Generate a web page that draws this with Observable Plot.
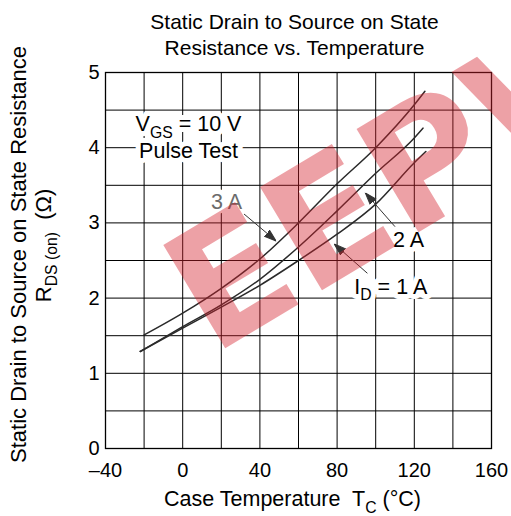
<!DOCTYPE html>
<html><head><meta charset="utf-8">
<script src="https://cdn.jsdelivr.net/npm/d3@7"></script>
<script src="https://cdn.jsdelivr.net/npm/@observablehq/plot@0.6"></script>
<style>
body{margin:0;background:#fff}
svg text{white-space:pre}
</style>
</head><body><div id="chart"></div>
<script>
// ---- data ----
const temp3A = [-20, 0, 20, 40, 60, 80, 100, 120, 125.5];
const r3A    = [1.51, 1.80, 2.13, 2.52, 3.00, 3.52, 4.00, 4.57, 4.75];
const temp2A = [-22, 0, 20, 40, 60, 80, 100, 120, 124.5];
const r2A    = [1.29, 1.62, 1.91, 2.25, 2.68, 3.16, 3.66, 4.13, 4.26];
const temp1A = [-22, 0, 20, 40, 60, 80, 100, 120, 126];
const r1A    = [1.29, 1.60, 1.88, 2.17, 2.50, 2.85, 3.25, 3.80, 3.95];

const xTicks = [-40, 0, 40, 80, 120, 160];
const xGrid  = [-40, -20, 0, 20, 40, 60, 80, 100, 120, 140, 160];
const yTicks = [0, 1, 2, 3, 4, 5];
const yGrid  = [0, 0.5, 1, 1.5, 2, 2.5, 3, 3.5, 4, 4.5, 5];

const labelText  = ["VGS = 10 V", "Pulse Test", "3 A", "2 A", "ID = 1 A"];
const labelX     = [3, 3, 22.7, 117, 107.8];
const labelY     = [4.31, 3.95, 3.28, 2.77, 2.15];
const labelColor = ["#000", "#000", "#6b6b6b", "#000", "#000"];

const arrowX1 = [31.7, 110, 95.7];
const arrowY1 = [3.12, 2.95, 2.33];
const arrowX2 = [48.4, 94.6, 78.5];
const arrowY2 = [2.76, 3.40, 2.72];

const titleText = "Static Drain to Source on State\nResistance vs. Temperature";
const xLabel = "Case Temperature  TC (°C)";
const yLabel1 = "Static Drain to Source on State Resistance";
const yLabel2 = "RDS (on)  (Ω)";

const wmText = ["EEPW"];
const wmX = [118.6];
const wmY = [3.64];

// ---- build tables ----
const curves = [
  ...temp3A.map((t, i) => ({t, r: r3A[i], s: "3A"})),
  ...temp2A.map((t, i) => ({t, r: r2A[i], s: "2A"})),
  ...temp1A.map((t, i) => ({t, r: r1A[i], s: "1A"}))
];
const labels = labelText.map((text, i) => ({text, x: labelX[i], y: labelY[i], c: labelColor[i]}));
const arrows = arrowX1.map((x1, i) => ({x1, y1: arrowY1[i], x2: arrowX2[i], y2: arrowY2[i]}));

const filledArrow = (color) => {
  const ns = "http://www.w3.org/2000/svg";
  const m = document.createElementNS(ns, "marker");
  m.setAttribute("viewBox", "-12 -5 12 10");
  m.setAttribute("markerWidth", "12");
  m.setAttribute("markerHeight", "10");
  m.setAttribute("markerUnits", "userSpaceOnUse");
  m.setAttribute("refX", "0");
  m.setAttribute("refY", "0");
  m.setAttribute("orient", "auto");
  const p = document.createElementNS(ns, "path");
  p.setAttribute("d", "M-12,-4L0,0L-12,4Z");
  p.setAttribute("fill", color);
  m.appendChild(p);
  return m;
};

function build(marker) {
  return Plot.plot({
    width: 511,
    height: 516,
    marginLeft: 105,
    marginRight: 20,
    marginTop: 72,
    marginBottom: 68,
    style: {fontFamily: "Arial, 'Liberation Sans', sans-serif", fontSize: "20px", color: "#000", background: "#fff", overflow: "visible"},
    x: {domain: [-40, 160]},
    y: {domain: [0, 5]},
    marks: [
      Plot.ruleX(xGrid, {stroke: "#000", strokeWidth: 1}),
      Plot.ruleY(yGrid, {stroke: "#000", strokeWidth: 1}),
      Plot.frame({stroke: "#000", strokeWidth: 1.3}),
      Plot.line(curves, {x: "t", y: "r", z: "s", stroke: "#2a2a2a", strokeWidth: 1.5, curve: "monotone-x"}),
      Plot.link(arrows, {x1: "x1", y1: "y1", x2: "x2", y2: "y2", stroke: "#333", strokeWidth: 1, markerEnd: marker}),
      // white backing behind the annotation texts
      Plot.text(labels, {x: "x", y: "y", text: "text", fill: "white", fontSize: 21.5, stroke: "white", strokeWidth: 10, strokeLinejoin: "round", ariaHidden: true}),
      Plot.text(labels, {x: "x", y: "y", text: "text", fill: "c", fontSize: 21.5}),
      Plot.axisX({ticks: xTicks, tickSize: 0, tickPadding: 14, fontSize: 20, label: null,
        tickFormat: d => d < 0 ? "\u2013" + Math.abs(d) : String(d)}),
      Plot.axisY({ticks: yTicks, tickSize: 0, tickPadding: 6, fontSize: 20, label: null, tickFormat: d => String(d)}),
      Plot.text([titleText], {frameAnchor: "top", dy: -39, dx: -4, lineHeight: 1.27, fontSize: 21, lineAnchor: "middle", textAnchor: "middle"}),
      Plot.text([xLabel], {frameAnchor: "bottom", dy: 51, dx: -6, fontSize: 21.5, lineAnchor: "middle", textAnchor: "middle"}),
      Plot.text([yLabel1], {frameAnchor: "left", dx: -87, dy: -6, rotate: -90, fontSize: 22, lineAnchor: "middle", textAnchor: "middle"}),
      Plot.text([yLabel2], {frameAnchor: "left", dx: -62, dy: -15, rotate: -90, fontSize: 22, lineAnchor: "middle", textAnchor: "middle"}),
      Plot.text(wmText, {x: wmX, y: wmY, text: d => d, rotate: -31, fontSize: 165, fontWeight: "bold",
        fontFamily: "'DejaVu Sans', sans-serif",
        fill: "#d4202c", fillOpacity: 0.42, lineAnchor: "middle", textAnchor: "middle"})
    ]
  });
}

let chart;
try { chart = build(filledArrow); } catch (e) { chart = build("arrow"); }

// subscripts
const subs = {
  "VGS = 10 V": [["V"], ["GS", 1], [" = 10 V"]],
  "ID = 1 A": [["I"], ["D", 1], [" = 1 A"]],
  "RDS (on)  (Ω)": [["R"], ["DS (on)", 1], ["  (Ω)"]],
  "Case Temperature  TC (°C)": [["Case Temperature  T"], ["C", 1], [" (°C)"]]
};
d3.select(chart).selectAll("text").each(function() {
  const el = d3.select(this);
  const key = this.textContent;
  if (!subs[key]) return;
  const F = 21;
  el.text(null);
  let down = false;
  for (const [s, sub] of subs[key]) {
    const ts = el.append("tspan").text(s);
    if (sub) { ts.attr("font-size", F * 0.75).attr("dy", F * 0.3); down = true; }
    else if (down) { ts.attr("dy", -F * 0.3); down = false; }
  }
});
document.getElementById("chart").appendChild(chart);
</script>
</body></html>
